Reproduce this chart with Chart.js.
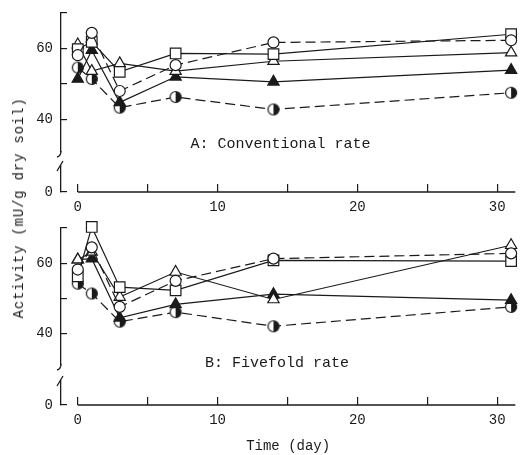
<!DOCTYPE html>
<html>
<head>
<meta charset="utf-8">
<script src="https://cdn.jsdelivr.net/npm/chart.js@4/dist/chart.umd.min.js"></script>
<style>
html, body { margin: 0; padding: 0; background: #fff; }
#wrap { position: relative; width: 524px; height: 455px; overflow: hidden; }
#cA { position: absolute; left: 0; top: 0; }
#cB { position: absolute; left: 0; top: 216px; }
#ytitle {
    position: absolute; left: 19px; top: 208px;
    transform: translate(-50%, -50%) rotate(-90deg);
    font: 14px "Liberation Mono", monospace; letter-spacing: 0.8px;
    white-space: nowrap; color: #1a1a1a;
}
</style>
</head>
<body>
<div id="wrap">
    <canvas id="cA" width="524" height="216" style="width:524px;height:216px"></canvas>
    <canvas id="cB" width="524" height="239" style="width:524px;height:239px"></canvas>
    <div id="ytitle">Activity (mU/g dry soil)</div>
</div>
<script>
// sampling days
var days = [0, 1, 3, 7, 14, 31];
var xTicks = [0, 5, 10, 15, 20, 25, 30];
var xLabels = ['0', '', '10', '', '20', '', '30'];
var yTicks = [40, 50, 60, 70];
var yLabels = ['40', '', '60', ''];

// A: conventional rate
var convCircle    = [58.1, 64.4, 48.0, 55.3, 61.7, 62.3];
var convSquare    = [59.8, 61.9, 53.4, 58.6, 58.4, 64.0];
var convTriangle  = [61.1, 53.6, 55.8, 53.6, 56.4, 58.8];
var convFilledTri = [51.4, 59.5, 44.8, 52.0, 50.6, 53.9];
var convHalf      = [54.6, 51.4, 43.3, 46.3, 42.8, 47.5];

// B: fivefold rate
var fiveCircle    = [58.2, 64.5, 47.6, 55.0, 61.3, 62.8];
var fiveSquare    = [56.3, 70.3, 53.2, 52.3, 60.8, 60.6];
var fiveTriangle  = [61.0, 63.2, 50.4, 57.5, 49.7, 65.1];
var fiveFilledTri = [61.0, 61.3, 44.5, 48.3, 51.2, 49.5];
var fiveHalf      = [54.2, 51.4, 43.4, 46.1, 42.1, 47.6];

var ink = '#1a1a1a';
Chart.defaults.font.family = '"Liberation Mono", monospace';
Chart.defaults.font.size = 14;
Chart.defaults.color = ink;

function halfDot(r) //circle with the right half filled
{
    var s = Math.ceil(r * 2 + 3), m = s / 2;
    var c = document.createElement('canvas');
    c.width = s; c.height = s;
    var g = c.getContext('2d');
    g.fillStyle = '#fff';
    g.beginPath(); g.arc(m, m, r, 0, 2 * Math.PI); g.fill();
    g.fillStyle = ink;
    g.beginPath(); g.arc(m, m, r, -Math.PI / 2, Math.PI / 2); g.closePath(); g.fill();
    g.strokeStyle = ink; g.lineWidth = 1.2;
    g.beginPath(); g.arc(m, m, r, 0, 2 * Math.PI); g.stroke();
    return c;
}
var halfImg = halfDot(5.5);

function series(vals, style, filled, dashed, rad)
{
    return {
        data: days.map(function (d, i) { return {x: d, y: vals[i]}; }),
        borderColor: ink,
        borderWidth: 1.2,
        borderDash: dashed ? [10, 5] : [],
        pointStyle: style,
        pointRadius: rad,
        pointBackgroundColor: filled ? ink : '#fff',
        pointBorderColor: ink,
        pointBorderWidth: 1.2,
        fill: false,
        tension: 0,
        clip: false,
        xAxisID: 'x',
        yAxisID: 'yHi'
    };
}

// axis baseline from day 0, axis break marks, panel caption
var axisDeco = {
    id: 'axisDeco',
    afterDraw: function (chart, args, opts) {
        var ctx = chart.ctx, x = chart.scales.x, hi = chart.scales.yHi, lo = chart.scales.yLo;
        var area = chart.chartArea, left = area.left;
        ctx.save();
        ctx.strokeStyle = ink;
        ctx.lineWidth = 1.3;
        ctx.beginPath();
        ctx.moveTo(x.getPixelForValue(0), area.bottom);
        ctx.lineTo(area.right, area.bottom);
        ctx.stroke();
        ctx.beginPath();
        ctx.moveTo(left, hi.bottom - 1);
        ctx.quadraticCurveTo(left, hi.bottom + 4, left - 4, hi.bottom + 5);
        ctx.moveTo(left - 4, lo.top + 5);
        ctx.lineTo(left + 2, lo.top - 5);
        ctx.stroke();
        ctx.fillStyle = ink;
        ctx.font = '15px "Liberation Mono", monospace';
        ctx.textAlign = 'center';
        ctx.textBaseline = 'middle';
        ctx.fillText(opts.text, x.getPixelForValue(opts.at[0]), hi.getPixelForValue(opts.at[1]));
        ctx.restore();
    }
};

function fixY(s) //fixed axis width, no extra label padding
{
    s.width = 61;
    s.paddingTop = 0;
    s.paddingBottom = 0;
}

function panel(id, sets, cfg)
{
    var tickFont = {family: '"Liberation Mono", monospace', size: 14};
    return new Chart(document.getElementById(id), {
        type: 'line',
        data: {datasets: sets},
        plugins: [axisDeco],
        options: {
            responsive: false,
            animation: false,
            events: [],
            layout: {padding: {top: cfg.top, left: 0, right: 3, bottom: 0}},
            plugins: {
                legend: {display: false},
                tooltip: {enabled: false},
                axisDeco: {text: cfg.caption, at: cfg.captionAt}
            },
            scales: {
                x: {
                    type: 'linear', position: 'bottom', min: -1.2, max: 31.3,
                    afterBuildTicks: function (s) { s.ticks = xTicks.map(function (v) { return {value: v}; }); },
                    afterFit: function (s) { s.height = cfg.xHeight; s.paddingLeft = 0; s.paddingRight = 0; },
                    grid: {drawOnChartArea: false, tickLength: -8, color: ink, lineWidth: 1.2},
                    border: {display: false},
                    ticks: {
                        padding: 15, autoSkip: false, maxRotation: 0, font: tickFont, color: ink,
                        callback: function (v) { return xLabels[xTicks.indexOf(v)]; }
                    },
                    title: {
                        display: cfg.xTitle !== '', text: cfg.xTitle, color: ink,
                        font: tickFont, padding: {top: 0, bottom: 0}
                    }
                },
                // left stacks are laid out last-first, so the bottom piece comes first here
                yLo: {
                    type: 'linear', position: 'left', stack: 'ys', stackWeight: cfg.w[2],
                    min: 0, max: 8,
                    afterBuildTicks: function (s) { s.ticks = [{value: 0}]; },
                    afterFit: fixY,
                    grid: {drawOnChartArea: false, tickLength: -6, color: ink, lineWidth: 1.2},
                    border: {display: true, color: ink, width: 1.3},
                    ticks: {padding: 14, font: tickFont, color: ink}
                },
                yGap: {
                    type: 'linear', position: 'left', stack: 'ys', stackWeight: cfg.w[1],
                    display: false, min: 0, max: 1
                },
                yHi: {
                    type: 'linear', position: 'left', stack: 'ys', stackWeight: cfg.w[0],
                    min: cfg.hiMin, max: 70,
                    afterBuildTicks: function (s) { s.ticks = yTicks.map(function (v) { return {value: v}; }); },
                    afterFit: fixY,
                    grid: {drawOnChartArea: false, tickLength: -6, color: ink, lineWidth: 1.2},
                    border: {display: true, color: ink, width: 1.3},
                    ticks: {
                        padding: 14, font: tickFont, color: ink,
                        callback: function (v) { return yLabels[yTicks.indexOf(v)]; }
                    }
                }
            }
        }
    });
}

panel('cA', [
    series(convCircle, 'circle', false, true, 5.5),
    series(convSquare, 'rect', false, false, 7.5),
    series(convTriangle, 'triangle', false, false, 6.5),
    series(convFilledTri, 'triangle', true, false, 6.5),
    series(convHalf, halfImg, false, true, 5.5)
], {top: 13, xHeight: 24, hiMin: 30.8, w: [139, 14, 26], xTitle: '',
    caption: 'A: Conventional rate', captionAt: [14.5, 33.1]});

panel('cB', [
    series(fiveCircle, 'circle', false, true, 5.5),
    series(fiveSquare, 'rect', false, false, 7.5),
    series(fiveTriangle, 'triangle', false, false, 6.5),
    series(fiveFilledTri, 'triangle', true, false, 6.5),
    series(fiveHalf, halfImg, false, true, 5.5)
], {top: 12, xHeight: 50, hiMin: 31.1, w: [137, 16, 24], xTitle: 'Time (day)',
    caption: 'B: Fivefold rate', captionAt: [14.25, 31.8]});
</script>
</body>
</html>
